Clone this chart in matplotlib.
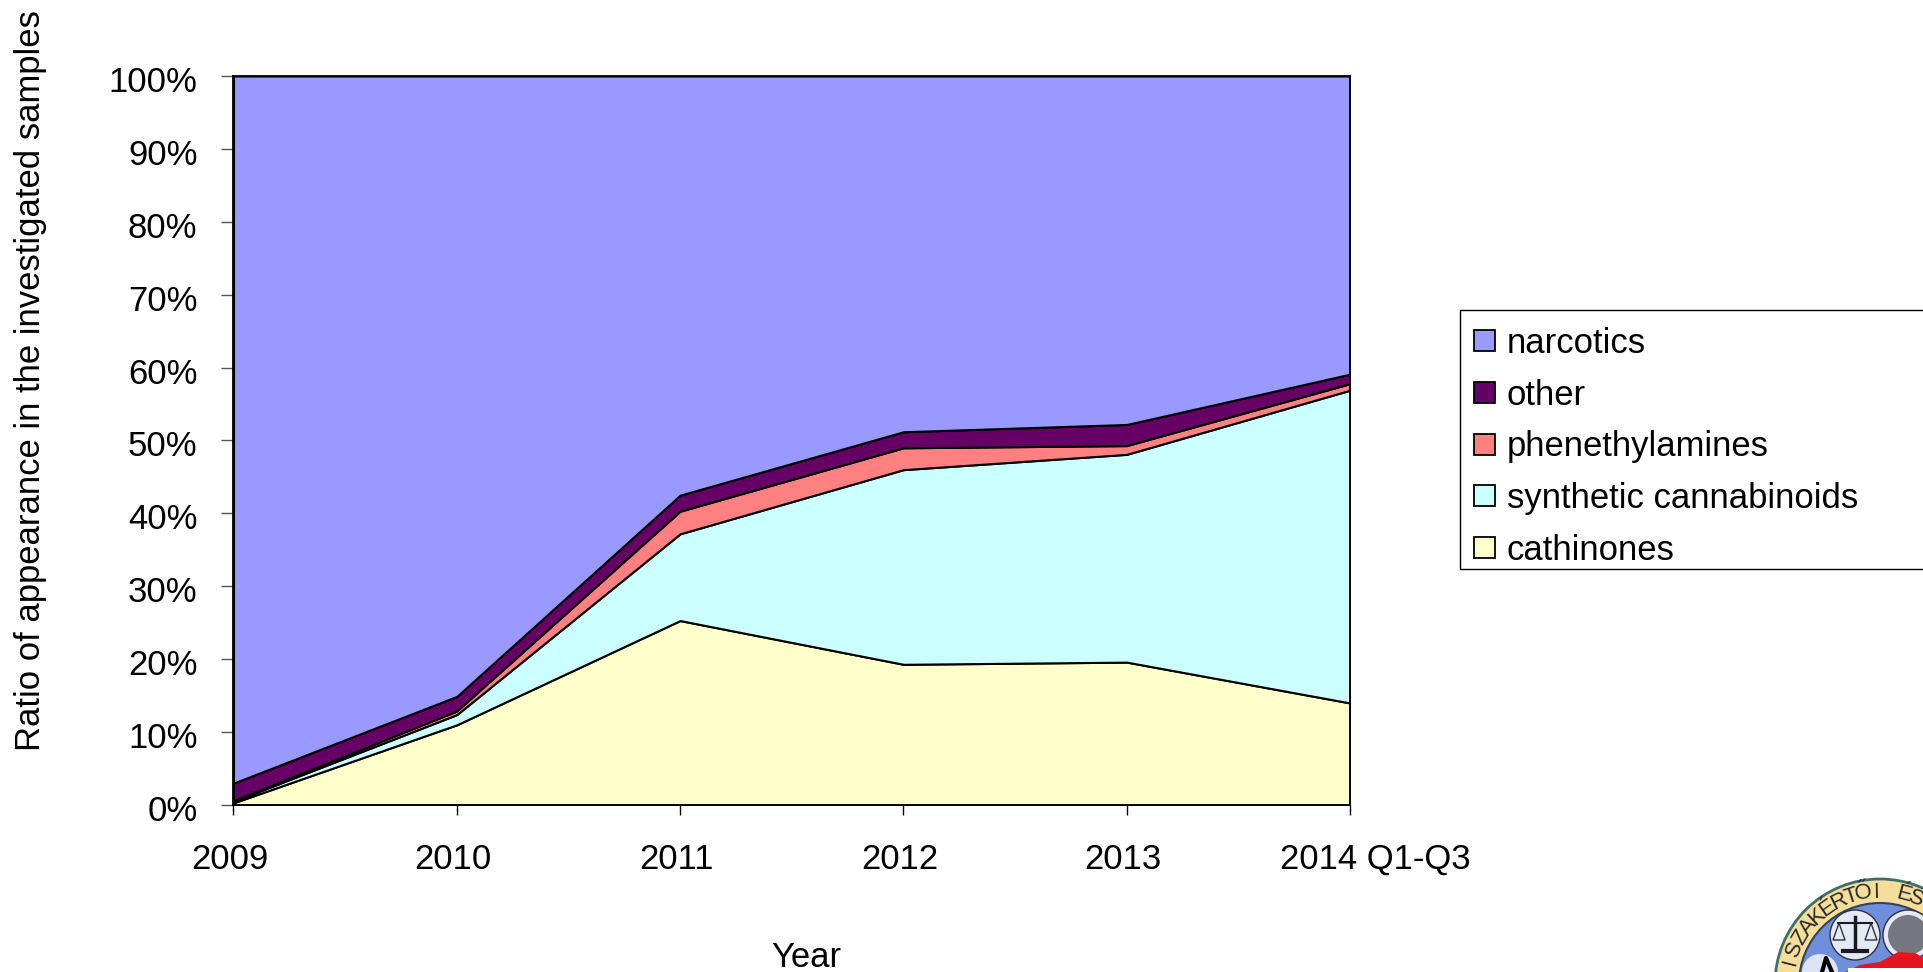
import numpy as np
import matplotlib
matplotlib.use('Agg')
import matplotlib.pyplot as plt
from matplotlib.patches import Circle, Polygon, Rectangle, Wedge
from matplotlib.transforms import ScaledTranslation

plt.rcParams['font.family'] = ['Liberation Sans', 'DejaVu Sans']

years = ['2009', '2010', '2011', '2012', '2013', '2014 Q1-Q3']
cathinones = [0.3, 11.0, 25.3, 19.3, 19.6, 14.0]
cannabinoids = [0.2, 1.4, 11.9, 26.7, 28.5, 42.9]
phenethylamines = [0.1, 0.5, 3.1, 3.0, 1.2, 0.9]
other = [2.4, 2.0, 2.2, 2.2, 2.9, 1.3]
narcotics = [97.0, 85.1, 57.5, 48.8, 47.8, 40.9]

names = ['cathinones', 'synthetic cannabinoids', 'phenethylamines', 'other', 'narcotics']
colors = ['#FFFFCC', '#CCFFFF', '#FF8080', '#660066', '#9999FF']

W, H = 1924, 972
FS = 24.9

fig = plt.figure(figsize=(W / 100, H / 100), dpi=100)
ax = fig.add_axes([233.5 / W, 1 - 805 / H, (1350 - 233.5) / W, (805 - 76) / H])

x = np.arange(len(years))
areas = ax.stackplot(x, cathinones, cannabinoids, phenethylamines, other, narcotics,
                     labels=names, colors=colors, edgecolor='black', linewidth=1.5)

ax.set_xlim(0, 5)
ax.set_ylim(0, 100)
ax.set_xticks(x)
ax.set_xticklabels(years)
ax.set_yticks(range(0, 101, 10))
ax.set_yticklabels([f'{v}%' for v in range(0, 101, 10)])
ax.tick_params(axis='x', length=7.5, width=1, pad=19.5, labelsize=FS)
ax.tick_params(axis='y', length=8.5, width=1, pad=17.5, labelsize=FS, color='#555555')
for s in ax.spines.values():
    s.set_linewidth(1.3)
    s.set_zorder(5)

# office chart labels sit a bit off their ticks, the long last one most of all
for t, dx in zip(ax.get_xticklabels(), [-4, -4, -4, -4, -4, 25]):
    t.set_transform(t.get_transform() + ScaledTranslation(dx / 100, 0, fig.dpi_scale_trans))
for t in ax.get_yticklabels():
    t.set_transform(t.get_transform() + ScaledTranslation(0, -3 / 100, fig.dpi_scale_trans))

fig.text(806 / W, 1 - 957 / H, 'Year', fontsize=FS, ha='center', va='center')
fig.text(31 / W, 1 - 381 / H, 'Ratio of appearance in the investigated samples', fontsize=FS,
         rotation=90, ha='center', va='center')

# legend box runs off the right edge of the picture
fig.add_artist(Rectangle((1460 / W, 1 - 569 / H), 500 / W, 259 / H, transform=fig.transFigure,
                         facecolor='white', edgecolor='black', linewidth=1))
leg = fig.legend(areas[::-1], names[::-1], loc='upper left', bbox_to_anchor=(1474 / W, 1 - 327 / H),
                 frameon=False, fontsize=FS, borderpad=0, borderaxespad=0, handlelength=0.62,
                 handleheight=0.55, handletextpad=0.33, labelspacing=0.54)
for h in leg.get_patches():
    h.set_linewidth(1.3)

# seal in the lower right corner, cut off by the picture edge
logo = fig.add_axes([0, 0, 1, 1], zorder=10)
logo.set_xlim(0, W)
logo.set_ylim(H, 0)
logo.axis('off')
cx, cy = 1880, 984
logo.add_patch(Circle((cx, cy), 105, facecolor='#F5DD9A', edgecolor='#3F6F6A', linewidth=2))
logo.add_patch(Circle((cx, cy), 81, facecolor='#6F8FDD', edgecolor='#33415F', linewidth=1.5))
logo.add_patch(Circle((1855, 935), 25, facecolor='#E4E9F5', edgecolor='#30303A', linewidth=1))
logo.add_patch(Circle((1908, 935), 25, facecolor='#E4E9F5', edgecolor='#30303A', linewidth=1))
logo.add_patch(Circle((1908, 935), 20, facecolor='#77777F', edgecolor='none'))
# scales
logo.plot([1855, 1855], [917, 950], color='#1A1A22', lw=2.5)
logo.plot([1838, 1872], [923, 923], color='#1A1A22', lw=1.5)
logo.plot([1843, 1867], [951, 951], color='#1A1A22', lw=3)
logo.add_patch(Polygon([[1839, 923], [1833, 940], [1845, 940]], closed=True, facecolor='none',
                       edgecolor='#30303A', linewidth=1))
logo.add_patch(Polygon([[1871, 923], [1865, 940], [1877, 940]], closed=True, facecolor='none',
                       edgecolor='#30303A', linewidth=1))
# map
logo.add_patch(Polygon([[1845, 972], [1860, 965], [1880, 962], [1898, 952], [1915, 953], [1924, 958],
                        [1924, 972]], closed=True, facecolor='#E6141E', edgecolor='none'))
logo.add_patch(Rectangle((1848, 968), 76, 4, facecolor='white', edgecolor='none'))
logo.add_patch(Wedge((1820, 972), 18, 180, 360, facecolor='#DDE3F5', edgecolor='none'))
logo.plot([1822, 1826, 1832], [972, 958, 972], color='black', lw=3)

seal_text = 'ISZAKÉRTŐI ÉS'
for i, ch in enumerate(seal_text):
    a = np.radians(-76 + i * 8.25)
    logo.text(cx + 92 * np.sin(a), cy - 92 * np.cos(a), ch, fontsize=16, color='#2A2A30',
              rotation=-np.degrees(a), ha='center', va='center')

fig.savefig('out.png', dpi=100)
